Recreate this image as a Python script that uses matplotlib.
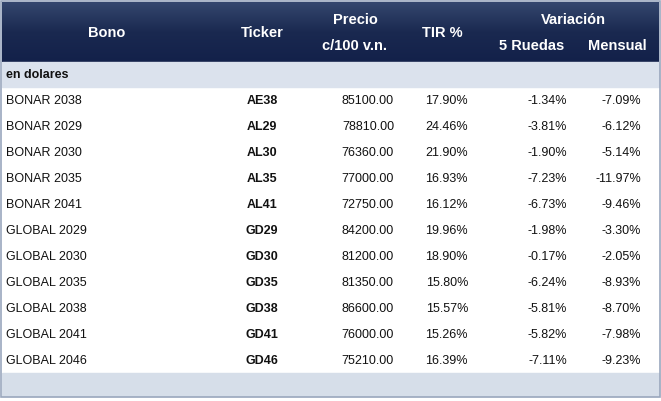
import matplotlib
matplotlib.use("Agg")
import matplotlib.pyplot as plt
import numpy as np
from matplotlib.patches import Rectangle

bonos = ["BONAR 2038","BONAR 2029","BONAR 2030","BONAR 2035","BONAR 2041","GLOBAL 2029",
         "GLOBAL 2030","GLOBAL 2035","GLOBAL 2038","GLOBAL 2041","GLOBAL 2046"]
tickers = ["AE38","AL29","AL30","AL35","AL41","GD29","GD30","GD35","GD38","GD41","GD46"]
precio = ["85100.00","78810.00","76360.00","77000.00","72750.00","84200.00","81200.00","81350.00","86600.00","76000.00","75210.00"]
tir = ["17.90%","24.46%","21.90%","16.93%","16.12%","19.96%","18.90%","15.80%","15.57%","15.26%","16.39%"]
ruedas = ["-1.34%","-3.81%","-1.90%","-7.23%","-6.73%","-1.98%","-0.17%","-6.24%","-5.81%","-5.82%","-7.11%"]
mensual = ["-7.09%","-6.12%","-5.14%","-11.97%","-9.46%","-3.30%","-2.05%","-8.93%","-8.70%","-7.98%","-9.23%"]

plt.rcParams["font.family"] = "Liberation Sans"
fig = plt.figure(figsize=(6.61, 4.01), dpi=100)
ax = fig.add_axes([0, 0, 1, 1])
ax.set_xlim(0, 661); ax.set_ylim(401, 0); ax.axis("off")

# header gradient
grad = np.linspace(0, 1, 64).reshape(-1, 1)
from matplotlib.colors import LinearSegmentedColormap
cm = LinearSegmentedColormap.from_list("h", ["#34466e", "#1a2950", "#13214a"])
ax.imshow(grad, cmap=cm, extent=[2, 659, 62, 2], aspect="auto", zorder=0)
ax.add_patch(Rectangle((2, 62), 657, 25, color="#dbe2ed", zorder=0))
ax.add_patch(Rectangle((2, 373), 657, 23, color="#d6dee9", zorder=0))
ax.add_patch(Rectangle((1, 1), 659, 396, fill=False, ec="#9aa7bd", lw=1.2, zorder=3))

hk = dict(color="white", fontsize=10.5, fontweight="bold", va="center")
ax.text(107, 33, "Bono", ha="center", **hk)
ax.text(262, 33, "Ticker", ha="center", **hk)
ax.text(355, 20, "Precio", ha="center", **hk)
ax.text(355, 46, "c/100 v.n.", ha="center", **hk)
ax.text(442, 33, "TIR %", ha="center", **hk)
ax.text(573, 20, "Variación", ha="center", **hk)
ax.text(532, 46, "5 Ruedas", ha="center", **hk)
ax.text(617, 46, "Mensual", ha="center", **hk)

ax.text(6, 75, "en dolares", fontsize=9, fontweight="bold", va="center", color="#111")

for i in range(len(bonos)):
    y = 101 + 26.0 * i
    kw = dict(fontsize=9, va="center", color="#111")
    ax.text(6, y, bonos[i], ha="left", **kw)
    ax.text(262, y, tickers[i], ha="center", fontweight="bold", **kw)
    ax.text(394, y, precio[i], ha="right", **kw)
    ax.text(468, y, tir[i], ha="right", **kw)
    ax.text(567, y, ruedas[i], ha="right", **kw)
    ax.text(641, y, mensual[i], ha="right", **kw)

fig.savefig("out.png", dpi=100)
